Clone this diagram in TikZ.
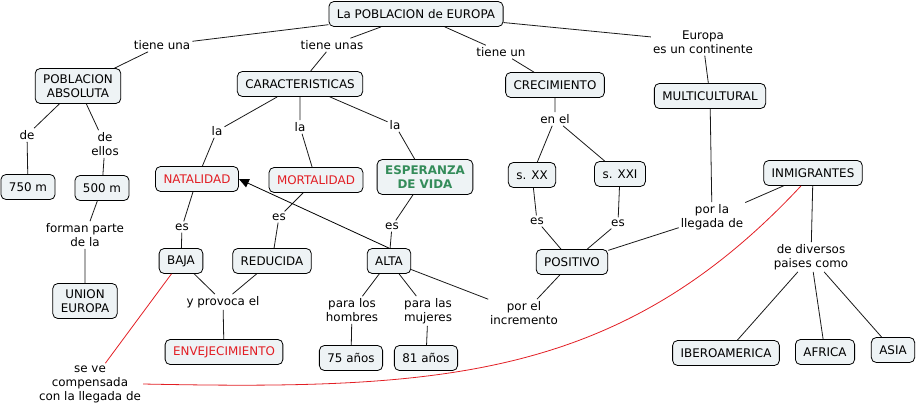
\documentclass[tikz,border=0pt]{standalone}
\usepackage{fontspec}
\setmainfont{DejaVu Sans}
\usepackage{tikz}
\usetikzlibrary{arrows.meta}
\definecolor{boxfill}{RGB}{238,243,245}
\definecolor{mapred}{RGB}{226,30,36}
\definecolor{mapgreen}{RGB}{52,140,90}
\definecolor{linegray}{RGB}{25,25,25}
\newcommand{\mapfont}{\fontsize{11.9}{14}\selectfont}

\begin{document}
\begin{tikzpicture}[
        x=1pt, y=-1pt,
        concept/.style={rectangle, draw=black, line width=0.8pt, fill=boxfill, rounded corners=5pt, align=center, minimum height=25pt, inner xsep=8pt, inner ysep=6pt, font=\mapfont},
        link/.style={align=center, inner sep=2pt, font=\mapfont},
        conn/.style={draw=linegray, line width=0.8pt},
        arrow/.style={-{Triangle[length=10pt, width=9pt]}, draw=black, line width=0.8pt},
        redline/.style={draw=mapred, line width=0.8pt}
    ]
        \useasboundingbox (0,0) rectangle (918,407);

        \node[concept] (europa) at (416,14) {La POBLACION de EUROPA};
        \node[concept] (absoluta) at (78,86) {POBLACION\\ABSOLUTA};
        \node[concept] (caract) at (300,84) {CARACTERISTICAS};
        \node[concept] (crecim) at (555,85) {CRECIMIENTO};
        \node[concept] (multi) at (710,96) {MULTICULTURAL};
        \node[concept, text=mapred] (natal) at (197,179) {NATALIDAD};
        \node[concept, text=mapred] (mortal) at (316,180) {MORTALIDAD};
        \node[concept, text=mapgreen, font=\mapfont\bfseries] (esperanza) at (425,177) {ESPERANZA\\DE VIDA};
        \node[concept] (m750) at (28,187) {750 m};
        \node[concept] (m500) at (102,188) {500 m};
        \node[concept] (sxx) at (532,175) {s. XX};
        \node[concept] (sxxi) at (620,174) {s. XXI};
        \node[concept] (inmig) at (813,173) {INMIGRANTES};
        \node[concept] (baja) at (181,261) {BAJA};
        \node[concept] (reduc) at (272,261) {REDUCIDA};
        \node[concept] (alta) at (389,261) {ALTA};
        \node[concept] (posit) at (572,262) {POSITIVO};
        \node[concept] (union) at (85,301) {UNION\\EUROPA};
        \node[concept, text=mapred] (envejec) at (224,352) {ENVEJECIMIENTO};
        \node[concept] (a75) at (351,358) {75 años};
        \node[concept] (a81) at (426,358) {81 años};
        \node[concept] (ibero) at (726,353) {IBEROAMERICA};
        \node[concept] (africa) at (825,352) {AFRICA};
        \node[concept] (asia) at (893,350) {ASIA};

        \node[link] (tieneuna) at (162,45) {tiene una};
        \node[link] (tieneunas) at (332,45) {tiene unas};
        \node[link] (tieneun) at (501,52) {tiene un};
        \node[link] (continente) at (703,42) {Europa\\es un continente};
        \node[link] (de) at (27,135) {de};
        \node[link] (deellos) at (105,144) {de\\ellos};
        \node[link] (la1) at (217,131) {la};
        \node[link] (la2) at (300,127) {la};
        \node[link] (la3) at (395,125) {la};
        \node[link] (enel) at (555,119) {en el};
        \node[link] (es1) at (182,227) {es};
        \node[link] (es2) at (279,217) {es};
        \node[link] (es3) at (392,226) {es};
        \node[link] (forman) at (85,235) {forman parte\\de la};
        \node[link] (es4) at (537,221) {es};
        \node[link] (es5) at (618,223) {es};
        \node[link] (porla) at (712,217) {por la\\llegada de};
        \node[link] (diversos) at (811,257) {de diversos\\paises como};
        \node[link] (provoca) at (223,302) {y provoca el};
        \node[link] (hombres) at (352,310) {para los\\hombres};
        \node[link] (mujeres) at (428,311) {para las\\mujeres};
        \node[link] (incremento) at (524,313) {por el\\incremento};
        \node[link] (compensada) at (90,384) {se ve\\compensada\\con la llegada de};

        \draw[conn] (europa) -- (tieneuna) -- (absoluta);
        \draw[conn] (europa) -- (tieneunas) -- (caract);
        \draw[conn] (europa) -- (tieneun) -- (crecim);
        \draw[conn] (europa) -- (continente) -- (multi);
        \draw[conn] (absoluta) -- (de) -- (m750);
        \draw[conn] (absoluta) -- (deellos) -- (m500);
        \draw[conn] (m500) -- (forman) -- (union);
        \draw[conn] (caract) -- (la1) -- (natal);
        \draw[conn] (caract) -- (la2) -- (mortal);
        \draw[conn] (caract) -- (la3) -- (esperanza);
        \draw[conn] (natal) -- (es1) -- (baja);
        \draw[conn] (mortal) -- (es2) -- (reduc);
        \draw[conn] (esperanza) -- (es3) -- (alta);
        \draw[conn] (baja) -- (provoca);
        \draw[conn] (reduc) -- (provoca) -- (envejec);
        \draw[conn] (alta) -- (hombres) -- (a75);
        \draw[conn] (alta) -- (mujeres) -- (a81);
        \draw[conn] (alta) -- (incremento) -- (posit);
        \draw[arrow] (alta.north) -- (natal.east);
        \draw[conn] (crecim) -- (enel) -- (sxx);
        \draw[conn] (enel) -- (sxxi);
        \draw[conn] (sxx) -- (es4) -- (posit);
        \draw[conn] (sxxi) -- (es5) -- (posit);
        \draw[conn] (multi) -- (porla) -- (posit);
        \draw[conn] (inmig) -- (porla);
        \draw[conn] (inmig) -- (diversos) -- (ibero);
        \draw[conn] (diversos) -- (africa);
        \draw[conn] (diversos) -- (asia);
        \draw[redline] (baja) -- (compensada);
        \draw[redline] (compensada.east) .. controls (440,390) and (620,380) .. (inmig);
    \end{tikzpicture}
\end{document}
